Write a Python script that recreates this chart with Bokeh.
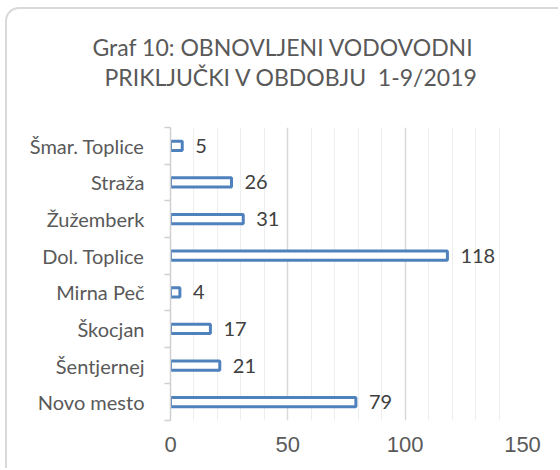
from bokeh.plotting import figure
from bokeh.models import ColumnDataSource, FixedTicker, Range1d, Title
from bokeh.core.properties import value
from bokeh.embed import file_html
from bokeh.resources import INLINE

categories = ["Novo mesto", "Šentjernej", "Škocjan", "Mirna Peč",
              "Dol. Toplice", "Žužemberk", "Straža", "Šmar. Toplice"]
values = [79, 21, 17, 4, 118, 31, 26, 5]
x_ticks = [0, 50, 100, 150]
x_minor = list(range(0, 151, 10))
title_lines = ["Graf 10: OBNOVLJENI VODOVODNI", "PRIKLJUČKI V OBDOBJU\u00a0 1-9/2019"]

pos = list(range(len(categories)))
src = ColumnDataSource(dict(y=pos, v=values, lab=[str(v) for v in values]))

p = figure(width=553, height=461, output_backend="svg", toolbar_location=None,
           title_location=None,
           x_range=Range1d(0, 150), y_range=Range1d(-0.5, len(categories) - 0.5),
           min_border_left=163, min_border_right=38, min_border_top=118, min_border_bottom=50)
p.styles = {"margin-left": "5px", "margin-top": "7px",
            "border-top": "2px solid #d9d9d9", "border-left": "2px solid #d9d9d9",
            "border-top-left-radius": "14px"}
p.outline_line_color = None
p.background_fill_color = None
p.border_fill_color = None

# grid
p.xgrid.ticker = FixedTicker(ticks=x_ticks, minor_ticks=x_minor)
p.xgrid.grid_line_color = "#d9d9d9"
p.xgrid.grid_line_width = 1.5
p.xgrid.minor_grid_line_color = "#eeeeee"
p.ygrid.grid_line_color = None

# x axis
p.xaxis.ticker = FixedTicker(ticks=x_ticks, minor_ticks=x_minor)
p.xaxis.axis_line_color = None
p.xaxis.major_tick_line_color = None
p.xaxis.minor_tick_line_color = None
p.xaxis.major_label_text_font = "Liberation Sans"
p.xaxis.major_label_text_font_size = "22px"
p.xaxis.major_label_text_color = "#595959"
p.xaxis.major_label_standoff = 10

# y axis
p.yaxis.ticker = FixedTicker(ticks=pos, minor_ticks=[i - 0.5 for i in range(len(categories) + 1)])
p.yaxis.major_label_overrides = {i: c for i, c in zip(pos, categories)}
p.yaxis.axis_line_color = "#d0d0d0"
p.yaxis.axis_line_width = 1.5
p.yaxis.major_tick_line_color = None
p.yaxis.major_tick_out = 0
p.yaxis.major_tick_in = 0
p.yaxis.minor_tick_line_color = "#d0d0d0"
p.yaxis.minor_tick_line_width = 1.5
p.yaxis.minor_tick_out = 6
p.yaxis.minor_tick_in = 0
p.yaxis.major_label_text_font = "Lato"
p.yaxis.major_label_text_font_size = "20px"
p.yaxis.major_label_text_color = "#595959"
p.yaxis.major_label_standoff = 20

p.hbar(y="y", right="v", left=0, height=0.25, source=src,
       fill_color="white", line_color="#4f81bd", line_width=3)
p.text(x="v", y="y", text="lab", source=src, x_offset=13,
       text_font=value("Lato"), text_font_size="20px", text_color="#404040",
       text_baseline="middle", text_align="left")

# spacer, then title lines (added bottom-up)
p.add_layout(Title(text=" ", text_font_size="31px", standoff=0), "above")
for t, off in zip(reversed(title_lines), [-66, -78]):
    p.add_layout(Title(text=t, align="left", offset=off, standoff=0,
                       text_font="Lato", text_font_size="23px", text_font_style="normal",
                       text_color="#595959"), "above")

open("out.html", "w").write(file_html(p, INLINE))
